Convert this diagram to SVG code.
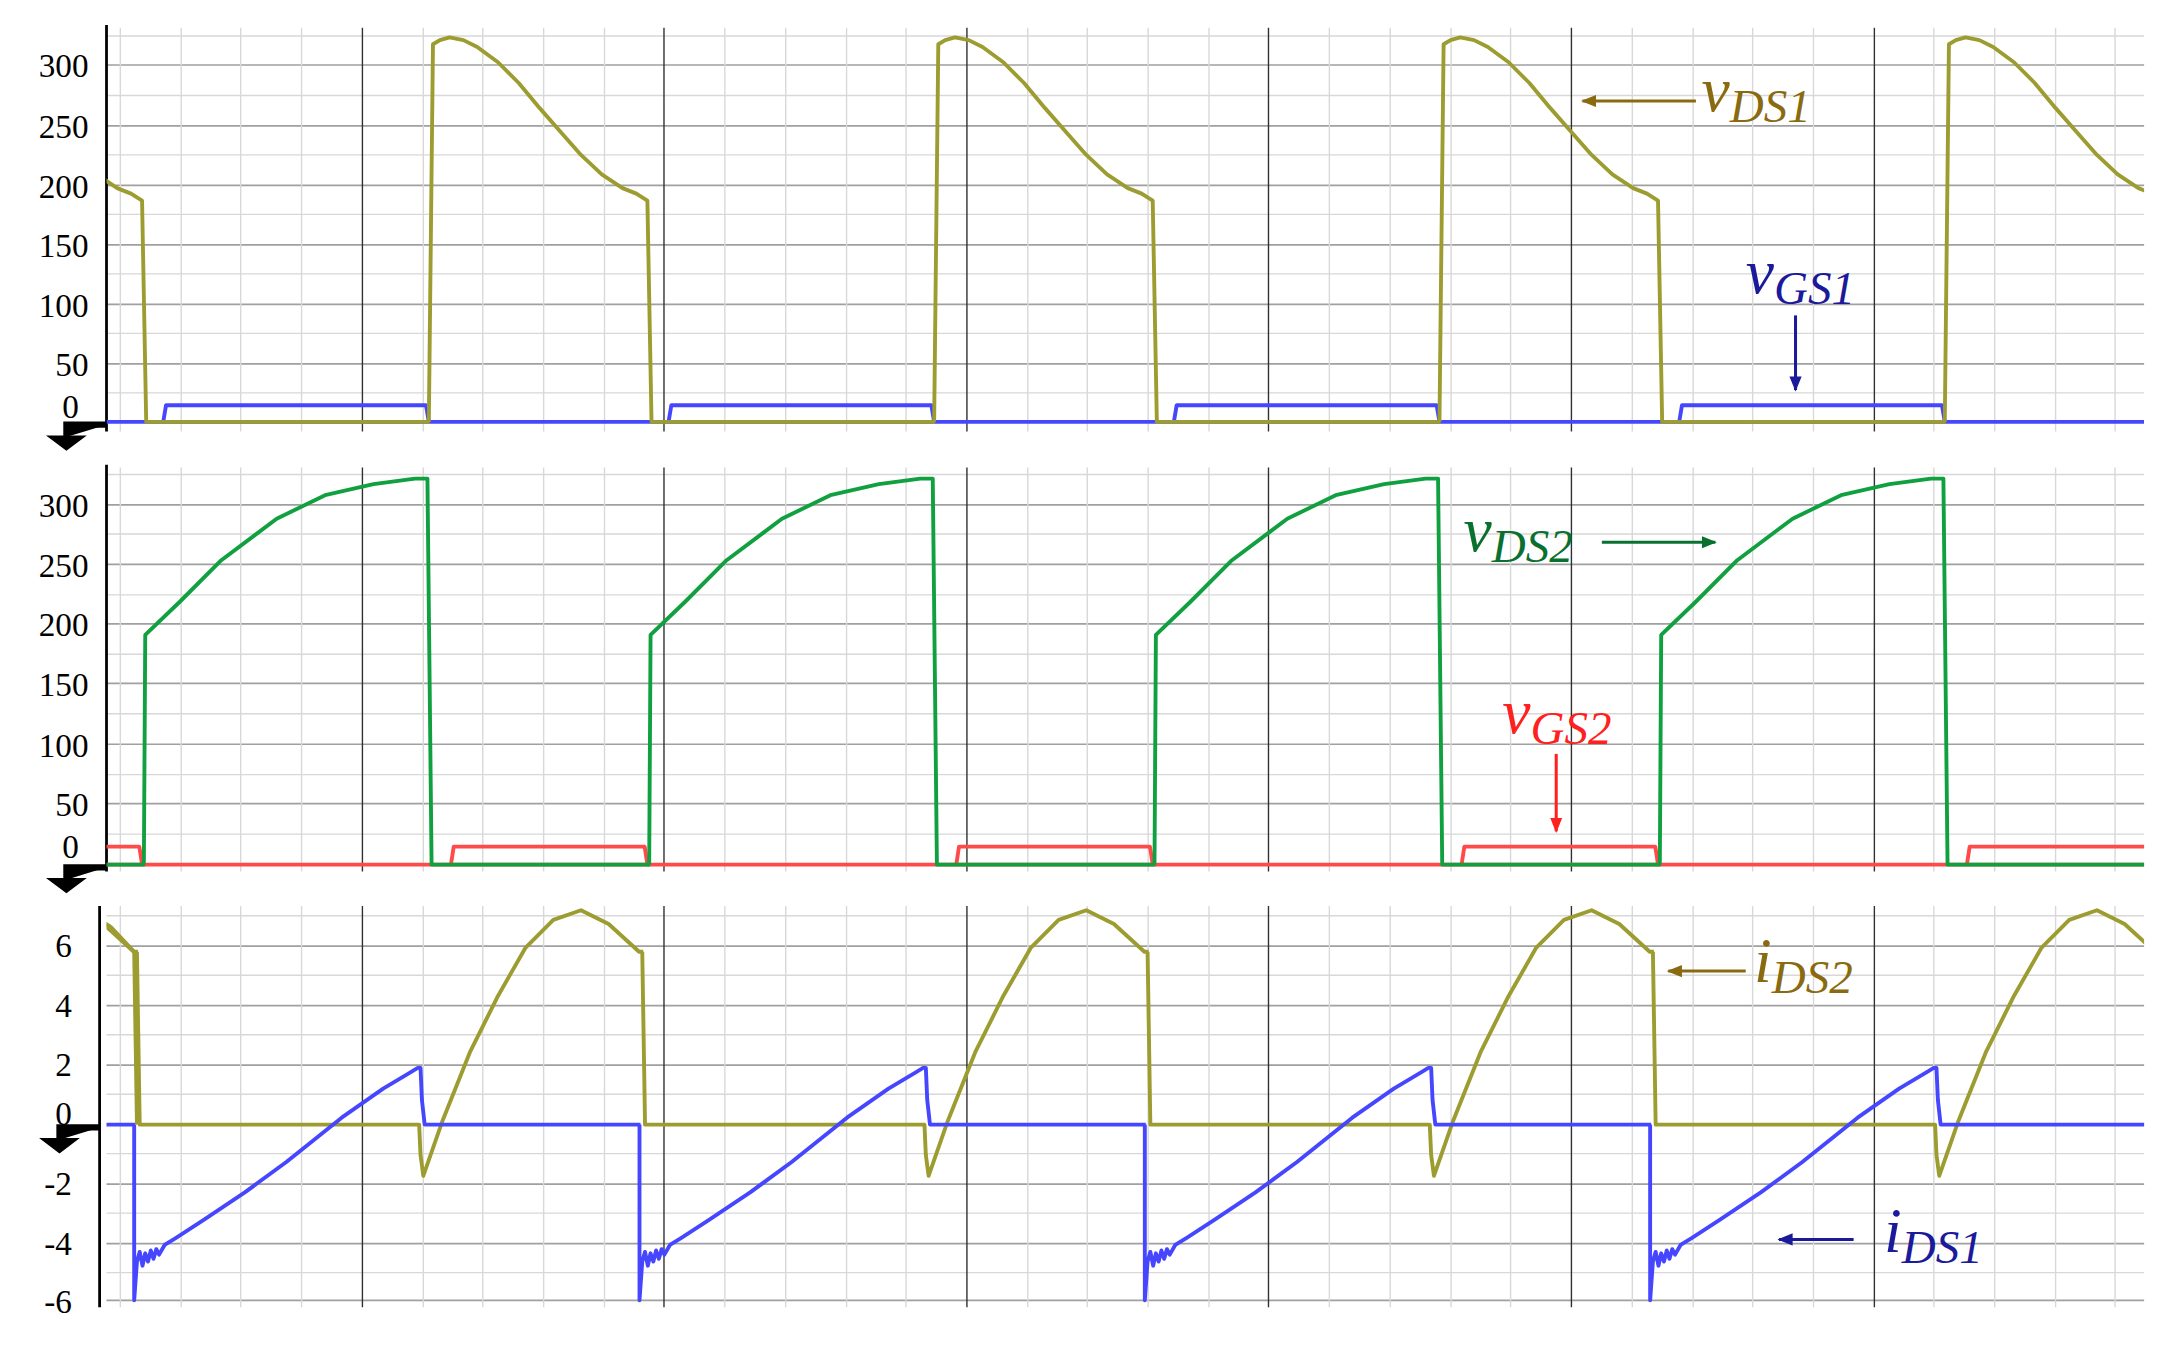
<svg xmlns="http://www.w3.org/2000/svg" xmlns:xlink="http://www.w3.org/1999/xlink" width="2169" height="1345" viewBox="0 0 2169 1345">
<style>
.minor{stroke:#d8d8d8;stroke-width:1}
.major{stroke:#a0a0a0;stroke-width:1.2}
.dark{stroke:#303030;stroke-width:1}
.tick{font-family:"Liberation Serif",serif;font-size:24px;fill:#000;text-anchor:end}
.tr{fill:none;stroke-width:2.8;stroke-linejoin:round}
.ol{stroke:#9c9c30}.bl{stroke:#4646ff}.gr{stroke:#10a040}.rd{stroke:#ff4a4a}
.lab{font-family:"Liberation Serif",serif;font-style:italic}
</style>
<defs>
<clipPath id="cp"><rect x="77" y="0" width="1473" height="972"/></clipPath>
<marker id="aw" viewBox="0 0 10 10" refX="9" refY="5" markerWidth="5" markerHeight="5" orient="auto"><path d="M0,1 L10,5 L0,9 z" fill="context-stroke"/></marker>
<path id="p1" d="M0,305 L3,32 L8,29 L15,27 L25,29 L35,34 L50,45 L65,60 L80,78 L95,95 L110,112 L125,126 L140,136 L150,140 L158,145 L161,305 L366,305"/>
<path id="g1" d="M0,305 L2,293 L190,293 L192,305"/>
<path id="p2" d="M0,625 L1,459 L26,435 L56,405 L96,375 L131,358 L166,350 L196,346 L205,346 L208,625 L366,625"/>
<path id="g2" d="M0,625 L2,612 L140,612 L142,625"/>
<path id="p3" d="M0,688 L2,813 L204,813 L205,835 L207,850 L221,810 L241,760 L261,720 L281,685 L301,665 L321,658 L341,668 L363,688 L366,688"/>
<path id="p4" d="M0,813 L0,940 L2,912 L4,905 L6,915 L8,906 L10,912 L12,904 L14,910 L16,903 L18,907 L22,900 L30,895 L50,882 L80,862 L110,840 L150,808 L180,787 L200,775 L205,772 L207,772 L208,795 L210,813 L366,813"/>
<path id="gnd" d="M77,0 H48 V9 M40,10 H56 L48,16 Z" stroke="#000" stroke-width="4.5" fill="#000"/>
</defs>
<g transform="scale(1.3833)">
<g id="grid">
<g id="panel1-grid">
<path class="minor" d="M77,26H1550M77,69H1550M77,112H1550M77,155H1550M77,198H1550M77,241H1550M77,284H1550"/>
<path class="major" d="M77,47H1550M77,91H1550M77,134H1550M77,177H1550M77,220H1550M77,263H1550"/>
</g>
<g id="panel2-grid">
<path class="minor" d="M77,343H1550M77,386H1550M77,430H1550M77,473H1550M77,516H1550M77,560H1550M77,603H1550"/>
<path class="major" d="M77,365H1550M77,408H1550M77,451H1550M77,494H1550M77,538H1550M77,581H1550"/>
</g>
<g id="panel3-grid">
<path class="minor" d="M77,662H1550M77,705H1550M77,748H1550M77,791H1550M77,834H1550M77,877H1550M77,920H1550"/>
<path class="major" d="M77,684H1550M77,727H1550M77,770H1550M77,856H1550M77,899H1550M77,940H1550"/>
</g>
<path class="minor" d="M87,20V312M131,20V312M174,20V312M218,20V312M306,20V312M349,20V312M393,20V312M437,20V312M524,20V312M568,20V312M612,20V312M655,20V312M743,20V312M786,20V312M830,20V312M874,20V312M961,20V312M1005,20V312M1049,20V312M1092,20V312M1180,20V312M1224,20V312M1267,20V312M1311,20V312M1398,20V312M1442,20V312M1486,20V312M1529,20V312"/>
<path class="minor" d="M87,338V630M131,338V630M174,338V630M218,338V630M306,338V630M349,338V630M393,338V630M437,338V630M524,338V630M568,338V630M612,338V630M655,338V630M743,338V630M786,338V630M830,338V630M874,338V630M961,338V630M1005,338V630M1049,338V630M1092,338V630M1180,338V630M1224,338V630M1267,338V630M1311,338V630M1398,338V630M1442,338V630M1486,338V630M1529,338V630"/>
<path class="minor" d="M87,655V945M131,655V945M174,655V945M218,655V945M306,655V945M349,655V945M393,655V945M437,655V945M524,655V945M568,655V945M612,655V945M655,655V945M743,655V945M786,655V945M830,655V945M874,655V945M961,655V945M1005,655V945M1049,655V945M1092,655V945M1180,655V945M1224,655V945M1267,655V945M1311,655V945M1398,655V945M1442,655V945M1486,655V945M1529,655V945"/>
<path class="dark" d="M262,20V312M480,20V312M699,20V312M917,20V312M1136,20V312M1355,20V312M262,338V630M480,338V630M699,338V630M917,338V630M1136,338V630M1355,338V630M262,655V945M480,655V945M699,655V945M917,655V945M1136,655V945M1355,655V945"/>
<path stroke="#000" stroke-width="2" d="M77,18V312M77,336V630M72,655V945"/>
</g>
<g id="ticks">
<text class="tick" x="64" y="56">300</text><text class="tick" x="64" y="100">250</text><text class="tick" x="64" y="143">200</text><text class="tick" x="64" y="186">150</text><text class="tick" x="64" y="229">100</text><text class="tick" x="64" y="272">50</text><text class="tick" x="57" y="302">0</text>
<text class="tick" x="64" y="374">300</text><text class="tick" x="64" y="417">250</text><text class="tick" x="64" y="460">200</text><text class="tick" x="64" y="503">150</text><text class="tick" x="64" y="547">100</text><text class="tick" x="64" y="590">50</text><text class="tick" x="57" y="620">0</text>
<text class="tick" x="52" y="692">6</text><text class="tick" x="52" y="735">4</text><text class="tick" x="52" y="778">2</text><text class="tick" x="52" y="813">0</text><text class="tick" x="52" y="864">-2</text><text class="tick" x="52" y="907">-4</text><text class="tick" x="52" y="949">-6</text>
</g>
<g id="grounds">
<use xlink:href="#gnd" transform="translate(0,307)"/>
<use xlink:href="#gnd" transform="translate(0,627)"/>
<use xlink:href="#gnd" transform="translate(-5,815)"/>
</g>
<g id="traces" clip-path="url(#cp)">
<g id="vGS1" class="tr bl"><path d="M77,305H1550"/><use xlink:href="#g1" x="118"/><use xlink:href="#g1" x="483.3"/><use xlink:href="#g1" x="848.6"/><use xlink:href="#g1" x="1213.9"/></g>
<g id="vDS1" class="tr ol"><use xlink:href="#p1" x="-55.3"/><use xlink:href="#p1" x="310"/><use xlink:href="#p1" x="675.3"/><use xlink:href="#p1" x="1040.6"/><use xlink:href="#p1" x="1405.9"/></g>
<g id="vGS2" class="tr rd"><path d="M77,625H1550"/><use xlink:href="#g2" x="-39.3"/><use xlink:href="#g2" x="326"/><use xlink:href="#g2" x="691.3"/><use xlink:href="#g2" x="1056.6"/><use xlink:href="#g2" x="1421.9"/></g>
<g id="vDS2" class="tr gr"><use xlink:href="#p2" x="-261.3"/><use xlink:href="#p2" x="104"/><use xlink:href="#p2" x="469.3"/><use xlink:href="#p2" x="834.6"/><use xlink:href="#p2" x="1199.9"/></g>
<g id="iDS2" class="tr ol"><use xlink:href="#p3" x="-266.3"/><use xlink:href="#p3" x="99"/><use xlink:href="#p3" x="464.3"/><use xlink:href="#p3" x="829.6"/><use xlink:href="#p3" x="1194.9"/></g>
<g id="iDS1" class="tr bl"><use xlink:href="#p4" x="-268.3"/><use xlink:href="#p4" x="97"/><use xlink:href="#p4" x="462.3"/><use xlink:href="#p4" x="827.6"/><use xlink:href="#p4" x="1192.9"/></g>
<path d="M72,665 L80,670 L97,688 L99,813" class="tr ol"/>
</g>
<g id="connectors" stroke-width="2.2" fill="none">
<path d="M1226,73H1144" stroke="#8a6a10" marker-end="url(#aw)"/>
<path d="M1298,228V282" stroke="#1a1a9a" marker-end="url(#aw)"/>
<path d="M1158,392H1240" stroke="#0a7030" marker-end="url(#aw)"/>
<path d="M1125,545V601" stroke="#ff2020" marker-end="url(#aw)"/>
<path d="M1262,702H1206" stroke="#8a6a10" marker-end="url(#aw)"/>
<path d="M1340,896H1286" stroke="#1a1a9a" marker-end="url(#aw)"/>
</g>
<g id="labels" class="lab">
<text x="1230" y="80" fill="#8a6a10" font-size="46">v<tspan font-size="34" dy="8">DS1</tspan></text>
<text x="1262" y="212" fill="#1a1a9a" font-size="46">v<tspan font-size="34" dy="8">GS1</tspan></text>
<text x="1058" y="398" fill="#0a7030" font-size="46">v<tspan font-size="34" dy="8">DS2</tspan></text>
<text x="1086" y="530" fill="#ff2020" font-size="46">v<tspan font-size="34" dy="8">GS2</tspan></text>
<text x="1268" y="710" fill="#8a6a10" font-size="46">i<tspan font-size="34" dy="8">DS2</tspan></text>
<text x="1362" y="905" fill="#1a1a9a" font-size="46">i<tspan font-size="34" dy="8">DS1</tspan></text>
</g>
</g>
</svg>
